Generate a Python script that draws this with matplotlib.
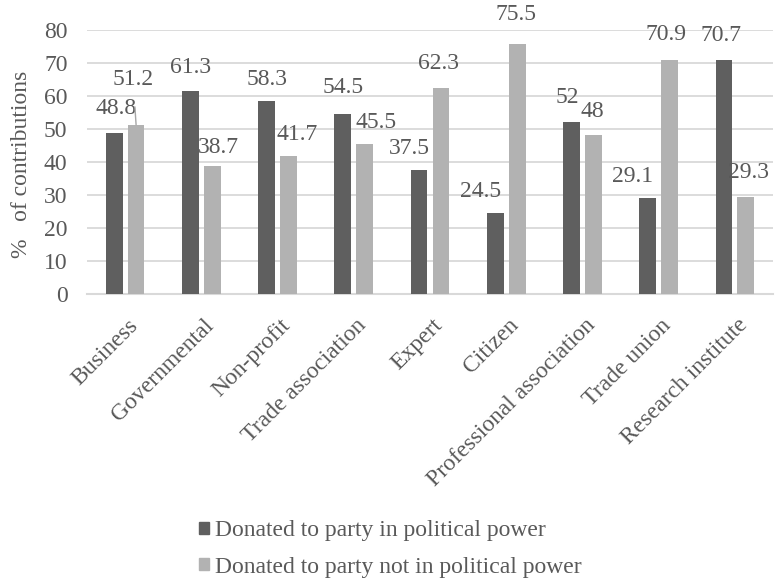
import numpy as np
import matplotlib
matplotlib.use('Agg')
import matplotlib.pyplot as plt
import matplotlib.transforms as mtransforms
from matplotlib.patches import Patch

categories = ['Business', 'Governmental', 'Non-profit', 'Trade association', 'Expert',
	'Citizen', 'Professional association', 'Trade union', 'Research institute']
in_power = [48.8, 61.3, 58.3, 54.5, 37.5, 24.5, 52, 29.1, 70.7]
not_in_power = [51.2, 38.7, 41.7, 45.5, 62.3, 75.5, 48, 70.9, 29.3]
label_in = ['48.8', '61.3', '58.3', '54.5', '37.5', '24.5', '52', '29.1', '70.7']
label_not = ['51.2', '38.7', '41.7', '45.5', '62.3', '75.5', '48', '70.9', '29.3']

dark = '#5f5f5f'
light = '#b2b2b2'
text_col = '#595959'
fs = 17

plt.rcParams['font.family'] = ['Liberation Serif', 'DejaVu Serif']
plt.rcParams['font.size'] = fs

fig = plt.figure(figsize=(7.78, 5.84), dpi=100)
ax = fig.add_axes([87 / 778, 1 - 294 / 584, 686 / 778, 264.5 / 584])

x = np.arange(len(categories))
w = 0.22
off = 0.144
ax.bar(x - off, in_power, w, color=dark, zorder=3)
ax.bar(x + off, not_in_power, w, color=light, zorder=3)

# label nudges in pixels (dx, dy from default spot above the bar)
nudge_in = [(2, 0), (0, 0), (0, -2), (0, 2), (-10, -2), (-15, -3), (-4, 1), (-15, -3), (-3, 1)]
nudge_not = [(0, 0), (6, -5), (9, -2), (11, -3), (-2, 1), (-1, 6), (-1, 0), (-4, 1), (3, 1)]

for i in range(len(categories)):
	ax.annotate(label_in[i], (x[i] - off, in_power[i]), xytext=(nudge_in[i][0], 24 + nudge_in[i][1]),
		textcoords='offset pixels', ha='center', va='center', color=text_col, fontsize=fs,
		annotation_clip=False)
	if i == 0:
		# 51.2 is pushed up with a leader line
		ax.annotate(label_not[i], (x[i] + off, not_in_power[i]), xytext=(-3, 45),
			textcoords='offset pixels', ha='center', va='center', color=text_col, fontsize=fs,
			arrowprops=dict(arrowstyle='-', color='#a6a6a6', lw=1, shrinkA=10, shrinkB=0))
	else:
		ax.annotate(label_not[i], (x[i] + off, not_in_power[i]), xytext=(nudge_not[i][0], 24 + nudge_not[i][1]),
			textcoords='offset pixels', ha='center', va='center', color=text_col, fontsize=fs,
			annotation_clip=False)

ax.set_xlim(-0.5, len(categories) - 0.5)
ax.set_ylim(0, 80)
ax.set_yticks(range(0, 81, 10))
ax.grid(axis='y', color='#d9d9d9', lw=1.3, zorder=0)
for s in ['top', 'right', 'left']:
	ax.spines[s].set_visible(False)
ax.spines['bottom'].set_color('#d9d9d9')
ax.spines['bottom'].set_linewidth(1.5)
ax.tick_params(axis='both', length=0, colors=text_col, labelsize=fs)
ax.tick_params(axis='y', pad=14)
ax.set_xticks(x)
ax.set_xticklabels(categories, rotation=45, ha='right', va='top', rotation_mode='anchor')
ax.tick_params(axis='x', pad=15)
shift = mtransforms.ScaledTranslation(2 / 100, 0, fig.dpi_scale_trans)
for lab in ax.get_xticklabels():
	lab.set_transform(lab.get_transform() + shift)
ax.set_ylabel('%   of contributions', color=text_col, fontsize=fs)
ax.yaxis.set_label_coords(-55 / 686, 0.49)

handles = [Patch(color=dark), Patch(color=light)]
fig.legend(handles, ['Donated to party in political power', 'Donated to party not in political power'],
	loc='center left', bbox_to_anchor=(199 / 778, 0.060), frameon=False, fontsize=fs, labelcolor=text_col,
	borderpad=0, borderaxespad=0, handlelength=0.42, handleheight=0.42, handletextpad=0.25,
	labelspacing=0.64)

fig.savefig('out.png', dpi=100)
